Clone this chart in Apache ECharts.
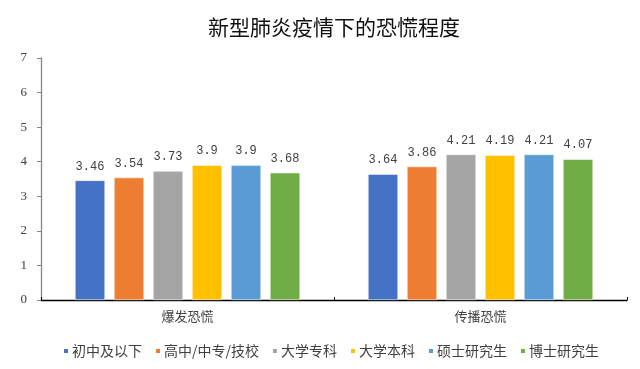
<!DOCTYPE html>
<html><head><meta charset="utf-8">
<script src="https://cdn.jsdelivr.net/npm/echarts@6/dist/echarts.min.js"></script>
<style>html,body{margin:0;padding:0;background:#fff}#c{width:640px;height:369px}</style>
</head><body><div id="c"></div>
<script>
const categories = ['爆发恐慌', '传播恐慌'];
const seriesNames = ['初中及以下', '高中/中专/技校', '大学专科', '大学本科', '硕士研究生', '博士研究生'];
const v_chuzhong = [3.46, 3.64];
const v_gaozhong = [3.54, 3.86];
const v_zhuanke = [3.73, 4.21];
const v_benke = [3.9, 4.19];
const v_shuoshi = [3.9, 4.21];
const v_boshi = [3.68, 4.07];
const yTicks = [0, 1, 2, 3, 4, 5, 6, 7];
const colors = ['#4472C4', '#ED7D31', '#A5A5A5', '#FFC000', '#5B9BD5', '#70AD47'];
const values = [v_chuzhong, v_gaozhong, v_zhuanke, v_benke, v_shuoshi, v_boshi];

const chart = echarts.init(document.getElementById('c'));
chart.setOption({
  animation: false,
  title: {
    text: '新型肺炎疫情下的恐慌程度',
    left: 329, textAlign: 'center', top: 12,
    textStyle: { fontFamily: 'Noto Sans CJK SC', fontSize: 21, fontWeight: 'normal', color: '#111' }
  },
  legend: {
    left: 57, top: 339,
    itemWidth: 6, itemHeight: 6, itemGap: 12, icon: 'rect',
    textStyle: { fontFamily: 'Noto Sans CJK SC', fontSize: 14, color: '#404040', padding: [0,0,0,-2] },
    data: seriesNames
  },
  grid: { left: 41, right: 13, top: 58, bottom: 69, containLabel: false },
  xAxis: {
    type: 'category', data: categories,
    axisLine: { lineStyle: { color: '#000', width: 1.3 } },
    axisTick: { show: true, inside: true, length: 3, lineStyle: { color: '#000' } },
    axisLabel: { fontFamily: 'Noto Sans CJK SC', fontSize: 13, color: '#404040', margin: 10 }
  },
  yAxis: {
    type: 'value', min: 0, max: 7, interval: 1,
    axisLine: { show: true, lineStyle: { color: '#868686', width: 1.3 } },
    axisTick: { show: true, length: 4, lineStyle: { color: '#868686' } },
    splitLine: { show: false },
    axisLabel: { fontFamily: 'Liberation Serif', fontSize: 13, color: '#404040', margin: 14,
      formatter: v => yTicks.includes(v) ? String(v) : '' }
  },
  series: seriesNames.map((n, i) => ({
    name: n, type: 'bar', data: values[i],
    barWidth: 30, barGap: '30%',
    itemStyle: { color: colors[i], borderColor: '#fff', borderWidth: 0.5 },
    label: { show: true, position: 'top', distance: 8, fontFamily: 'Liberation Mono', fontSize: 12, color: '#404040' }
  }))
});
</script></body></html>
